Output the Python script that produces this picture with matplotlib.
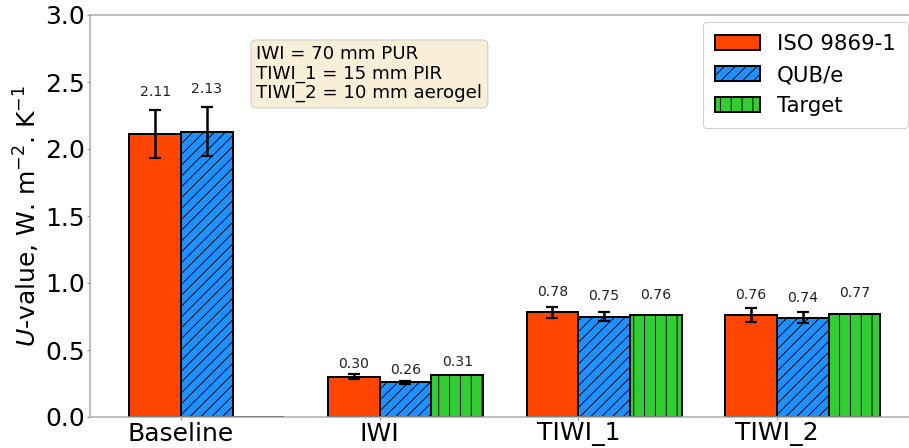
import numpy as np
import matplotlib
matplotlib.use("Agg")
import matplotlib.pyplot as plt

# ---- data ----
categories = ["Baseline", "IWI", "TIWI_1", "TIWI_2"]
iso_values = [2.11, 0.30, 0.78, 0.76]
iso_errors = [0.18, 0.02, 0.04, 0.05]
qub_values = [2.13, 0.26, 0.75, 0.74]
qub_errors = [0.18, 0.01, 0.03, 0.04]
target_values = [0.0, 0.31, 0.76, 0.77]
series_names = ["ISO 9869-1", "QUB/e", "Target"]
y_ticks = [0.0, 0.5, 1.0, 1.5, 2.0, 2.5, 3.0]
note_text = "IWI = 70 mm PUR\nTIWI_1 = 15 mm PIR\nTIWI_2 = 10 mm aerogel"

DPI = 65
PT = 72.0 / DPI  # points per pixel

plt.rcParams["hatch.linewidth"] = 1.0

fig = plt.figure(figsize=(909 / DPI, 448 / DPI), dpi=DPI)
ax = fig.add_axes([90 / 909, 31 / 448, 832 / 909, 402 / 448])

x = np.arange(len(categories))
w = 0.26
edge_lw = 2.0 * PT
err_kw = dict(ecolor="black", elinewidth=2.5 * PT, capsize=5.5 * PT, capthick=2.2 * PT)

b1 = ax.bar(x - w / 2, iso_values, w, yerr=[e if e > 0 else np.nan for e in iso_errors],
            color="#FF4500", edgecolor="black", linewidth=edge_lw,
            label=series_names[0], error_kw=err_kw)
b2 = ax.bar(x + w / 2, qub_values, w, yerr=[e if e > 0 else np.nan for e in qub_errors],
            color="#1E90FF", edgecolor="black", linewidth=edge_lw, hatch="//",
            label=series_names[1], error_kw=err_kw)
b3 = ax.bar(x + 3 * w / 2, target_values, w,
            color="#32CD32", edgecolor="black", linewidth=edge_lw, hatch="|",
            label=series_names[2])

label_fs = 14 * PT
for bars, vals in ((b1, iso_values), (b2, qub_values), (b3, target_values)):
    for rect, v in zip(bars, vals):
        if v <= 0:
            continue
        ax.text(rect.get_x() + rect.get_width() / 2, v * 1.12 + 0.06, f"{v:.2f}",
                ha="center", va="center", fontsize=label_fs, color="#222222")

ax.set_xlim(-0.458, 3.73)
ax.set_ylim(0, 3.0)
ax.set_yticks(y_ticks)
ax.set_yticklabels([f"{t:.1f}" for t in y_ticks])
ax.set_xticks(x)
ax.set_xticklabels(categories)
ax.tick_params(axis="both", labelsize=25 * PT, length=3 * PT, color="#999999",
               width=1.2 * PT, pad=2)
for s in ax.spines.values():
    s.set_color("#aaaaaa")
    s.set_linewidth(1.5 * PT)

ax.set_ylabel(r"$\it{U}$-value, W. m$^{-2}$. K$^{-1}$", fontsize=25 * PT, labelpad=4)

ax.text(0.2, 0.925, note_text, transform=ax.transAxes, va="top", ha="left",
        fontsize=18.3 * PT, linespacing=1.1,
        bbox=dict(boxstyle="round", facecolor="wheat", alpha=0.5, edgecolor="#999999"))

ax.legend(loc="upper right", fontsize=21.3 * PT, framealpha=1.0, edgecolor="#cccccc",
          handlelength=2.1, borderaxespad=0, borderpad=0.58,
          bbox_to_anchor=((908 - 90) / 832, (417 - 22) / 402))

fig.savefig("out.png", dpi=DPI)
